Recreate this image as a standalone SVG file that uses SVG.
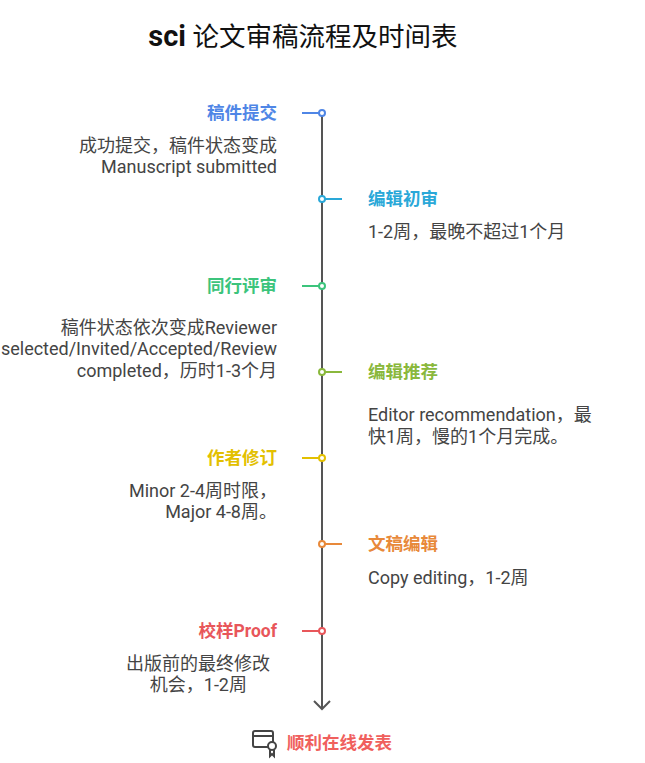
<svg xmlns="http://www.w3.org/2000/svg" width="645" height="763" viewBox="0 0 645 763">
<style>
text{font-family:Roboto,"Noto Sans CJK SC",sans-serif}
.t{font-size:17.5px;font-weight:bold}
.d{font-size:18px;fill:#444}
.L{text-anchor:end}
.tick{stroke-width:2;fill:none}
.dot{fill:#fff;stroke-width:2}
</style>
<defs><marker id="ah" markerWidth="12" markerHeight="18" refX="10" refY="9" orient="auto" markerUnits="userSpaceOnUse"><path d="M2,1 L10,9 L2,17" fill="none" stroke="#555" stroke-width="2"/></marker></defs>
<rect width="645" height="763" fill="#fff"/>
<text x="303" y="46" text-anchor="middle" font-size="26.5" fill="#111"><tspan font-weight="bold" font-size="29">sci</tspan> 论文审稿流程及时间表</text>
<g id="connectors"><line x1="322" y1="113" x2="322" y2="709" stroke="#555" stroke-width="2" marker-end="url(#ah)"/></g>
<g id="n1"><line class="tick" x1="302" y1="113" x2="322" y2="113" stroke="#4f86e6"/><circle class="dot" cx="322" cy="113" r="3" stroke="#4f86e6"/><text class="t L" x="277" y="119" fill="#4f86e6">稿件提交</text><text class="d L" x="277" y="152">成功提交，稿件状态变成</text><text class="d L" x="277" y="173">Manuscript submitted</text></g>
<g id="n2"><line class="tick" x1="322" y1="199" x2="342" y2="199" stroke="#2aa8d8"/><circle class="dot" cx="322" cy="199" r="3" stroke="#2aa8d8"/><text class="t" x="368" y="205" fill="#2aa8d8">编辑初审</text><text class="d" x="368" y="238">1-2周，最晚不超过1个月</text></g>
<g id="n3"><line class="tick" x1="302" y1="286" x2="322" y2="286" stroke="#3cc47c"/><circle class="dot" cx="322" cy="286" r="3" stroke="#3cc47c"/><text class="t L" x="277" y="292" fill="#3cc47c">同行评审</text><text class="d L" x="277" y="334">稿件状态依次变成Reviewer</text><text class="d L" x="277" y="355">selected/Invited/Accepted/Review</text><text class="d L" x="277" y="377">completed，历时1-3个月</text></g>
<g id="n4"><line class="tick" x1="322" y1="372" x2="342" y2="372" stroke="#8ab83c"/><circle class="dot" cx="322" cy="372" r="3" stroke="#8ab83c"/><text class="t" x="368" y="378" fill="#8ab83c">编辑推荐</text><text class="d" x="368" y="421">Editor recommendation，最</text><text class="d" x="368" y="443">快1周，慢的1个月完成。</text></g>
<g id="n5"><line class="tick" x1="302" y1="458" x2="322" y2="458" stroke="#e3c000"/><circle class="dot" cx="322" cy="458" r="3" stroke="#e3c000"/><text class="t L" x="277" y="464" fill="#e3c000">作者修订</text><text class="d L" x="277" y="497">Minor 2-4周时限，</text><text class="d L" x="277" y="518">Major 4-8周。</text></g>
<g id="n6"><line class="tick" x1="322" y1="544" x2="342" y2="544" stroke="#e8893a"/><circle class="dot" cx="322" cy="544" r="3" stroke="#e8893a"/><text class="t" x="368" y="550" fill="#e8893a">文稿编辑</text><text class="d" x="368" y="584">Copy editing，1-2周</text></g>
<g id="n7"><line class="tick" x1="302" y1="631" x2="322" y2="631" stroke="#e8565a"/><circle class="dot" cx="322" cy="631" r="3" stroke="#e8565a"/><text class="t L" x="277" y="637" fill="#e8565a">校样Proof</text><text class="d L" x="270" y="670">出版前的最终修改</text><text class="d L" x="247" y="691">机会，1-2周</text></g>
<g id="end"><g fill="none" stroke="#444" stroke-width="2"><rect x="253" y="731" width="20" height="16" rx="2"/><line x1="253" y1="736" x2="273" y2="736"/><circle cx="272" cy="746" r="4" fill="#fff"/><path d="M270,750 v6 l2,-2 l2,2 v-6"/></g><text x="287" y="749" font-size="17.5" font-weight="bold" fill="#f0605d">顺利在线发表</text></g>
</svg>
